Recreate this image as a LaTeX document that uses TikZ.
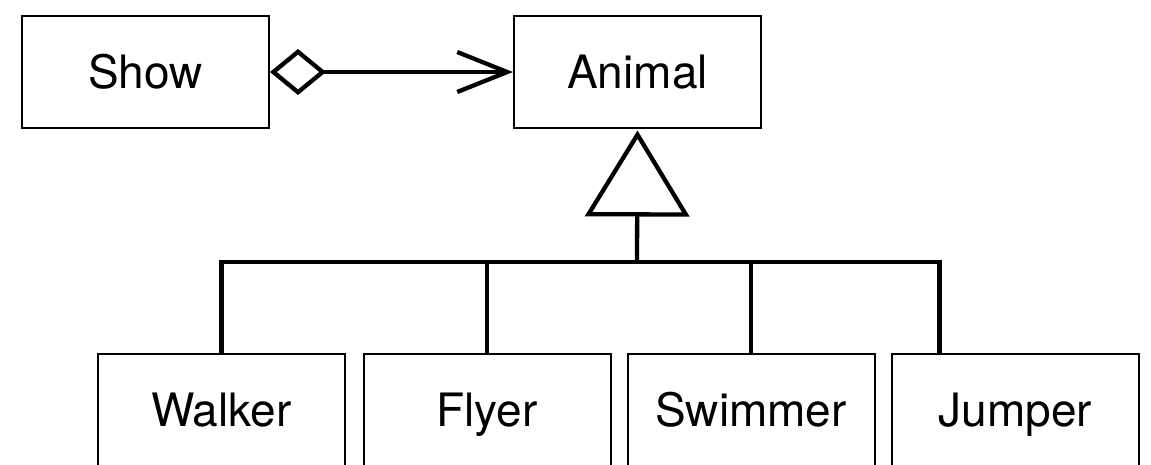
\documentclass[tikz,border=0pt]{standalone}
\usepackage{fontspec}
\setmainfont{TeX Gyre Heros}
\usepackage{tikz}
\usetikzlibrary{positioning,arrows.meta}

\begin{document}
\begin{tikzpicture}[x=1pt,y=-1pt,font=\fontsize{46}{55}\selectfont]
 \tikzset{class/.style={draw,line width=2pt,minimum width=247pt,minimum height=112pt,inner sep=0pt,
                        text height=33pt,text depth=0pt},
          link/.style={line width=4.3pt}}
 \fill[white] (0,0) rectangle (1151,464);
 \useasboundingbox (0,0) rectangle (1151,464);

 \node[class] (Show) at (145.5,72) {Show};
 \node[class] (Animal) at (637.5,72) {Animal};
 \node[class] (Walker) at (221.5,410) {Walker};
 \node[class] (Flyer) at (487,410) {Flyer};
 \node[class] (Swimmer) at (751,410) {Swimmer};
 \node[class] (Jumper) at (1015.5,410) {Jumper};

 % aggregation
 \draw[link,{Diamond[open,length=56pt,width=46pt]}-{Straight Barb[length=50pt,width=40pt]}]
   (Show.east) -- (Animal.west);

 % generalisation
 \coordinate (fork) at (637,262);
 \coordinate (jdrop) at ([xshift=-76pt]Jumper.north);
 \draw[link,-{Triangle[open,length=86pt,width=104pt]},shorten >=1.5pt] (fork) -- (Animal.south);
 \draw[link] (Walker.north) |- (jdrop |- fork) -- (jdrop);
 \draw[link] (Flyer.north) -- (Flyer.north |- fork);
 \draw[link] (Swimmer.north) -- (Swimmer.north |- fork);
\end{tikzpicture}
\end{document}
